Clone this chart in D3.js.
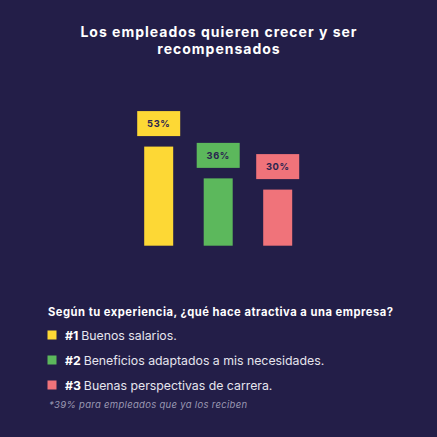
<!DOCTYPE html>
<html>
<head>
<meta charset="utf-8">
<script src="https://cdn.jsdelivr.net/npm/d3@7"></script>
<style>
  html, body { margin: 0; padding: 0; background: #231e48; }
  svg { display: block; }
  text { font-family: "Inter", "DejaVu Sans", sans-serif; }
</style>
</head>
<body>
<svg id="chart" width="437" height="437"></svg>
<script>
const categories = ["#1", "#2", "#3"];
const values = [53, 36, 30];
const valueLabels = ["53%", "36%", "30%"];
const legendLabels = ["Buenos salarios.", "Beneficios adaptados a mis necesidades.", "Buenas perspectivas de carrera."];
const colors = ["#fdd835", "#5cb85c", "#f0737a"];
const titleLines = ["Los empleados quieren crecer y ser", "recompensados"];
const question = "Según tu experiencia, ¿qué hace atractiva a una empresa?";
const footnote = "*39% para empleados que ya los reciben";

const W = 437, H = 437;
const svg = d3.select("#chart");
svg.append("rect").attr("width", W).attr("height", H).attr("fill", "#231e48");

// Title
svg.append("g").selectAll("text").data(titleLines).join("text")
  .attr("x", 219).attr("y", (d, i) => 36.8 + i * 17)
  .attr("text-anchor", "middle")
  .attr("fill", "#ffffff")
  .attr("font-size", 14).attr("font-weight", 700)
  .attr("letter-spacing", 1.0)
  .text(d => d);

// Scales
const x = d3.scalePoint().domain(categories).range([158.7, 277.7]);
const y = d3.scaleLinear().domain([0, 100]).range([245.7, 245.7 - 187]);
const barW = 29, boxW = 43, boxH = 25, gap = 10.5;

const bars = svg.append("g");
bars.selectAll("rect.bar").data(values).join("rect")
  .attr("class", "bar")
  .attr("x", (d, i) => x(categories[i]) - barW / 2)
  .attr("y", d => y(d))
  .attr("width", barW)
  .attr("height", d => y(0) - y(d))
  .attr("fill", (d, i) => colors[i]);

bars.selectAll("rect.box").data(values).join("rect")
  .attr("class", "box")
  .attr("x", (d, i) => x(categories[i]) - boxW / 2)
  .attr("y", d => y(d) - gap - boxH)
  .attr("width", boxW)
  .attr("height", boxH)
  .attr("fill", (d, i) => colors[i]);

bars.selectAll("text.val").data(values).join("text")
  .attr("class", "val")
  .attr("x", (d, i) => x(categories[i]))
  .attr("y", d => y(d) - gap - boxH / 2 + 3.3)
  .attr("text-anchor", "middle")
  .attr("fill", "#2a2450")
  .attr("font-size", 9.3).attr("font-weight", 700)
  .attr("letter-spacing", 0.6)
  .text((d, i) => valueLabels[i]);

// Question
svg.append("text")
  .attr("x", 48).attr("y", 316)
  .attr("fill", "#ffffff")
  .attr("font-size", 11.2).attr("font-weight", 700)
  .attr("letter-spacing", 0.5)
  .text(question);

// Legend
const leg = svg.append("g");
const rows = leg.selectAll("g").data(categories).join("g")
  .attr("transform", (d, i) => `translate(0, ${336 + i * 25})`);
rows.append("rect")
  .attr("x", 47.5).attr("y", -5.5).attr("width", 9).attr("height", 9)
  .attr("fill", (d, i) => colors[i]);
const lt = rows.append("text")
  .attr("x", 65).attr("y", 4)
  .attr("fill", "#ffffff")
  .attr("font-size", 12.3);
lt.append("tspan").attr("font-weight", 700).text(d => d + " ");
lt.append("tspan").attr("font-weight", 400).attr("fill", "#e6e5ee").text((d, i) => legendLabels[i]);

// Footnote
svg.append("text")
  .attr("x", 49).attr("y", 408)
  .attr("fill", "#9b99b3")
  .attr("font-size", 9.5)
  .attr("font-style", "italic")
  .attr("letter-spacing", 0.3)
  .text(footnote);
</script>
</body>
</html>
